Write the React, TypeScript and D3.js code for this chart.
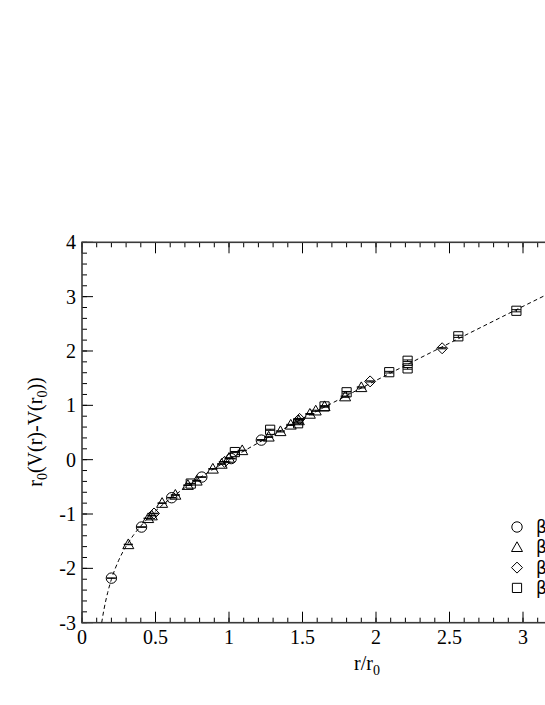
import React from "react";
import * as d3 from "d3";

// ---- data ----
const circleX = [0.2, 0.405, 0.61, 0.815, 1.015, 1.22];
const circleY = [-2.18, -1.24, -0.7, -0.32, 0.02, 0.36];
const circleErr = [0.0, 0.005, 0.005, 0.005, 0.005, 0.01];

const triX = [0.315, 0.45, 0.475, 0.545, 0.635, 0.72, 0.78, 0.89, 0.95, 1.0, 1.09, 1.27, 1.35, 1.42, 1.475, 1.55, 1.59, 1.65, 1.79, 1.9];
const triY = [-1.56, -1.08, -1.03, -0.8, -0.65, -0.47, -0.39, -0.17, -0.08, 0.03, 0.17, 0.42, 0.52, 0.64, 0.72, 0.84, 0.9, 0.98, 1.16, 1.33];
const triErr = [0.005, 0.005, 0.005, 0.005, 0.005, 0.005, 0.005, 0.005, 0.005, 0.005, 0.005, 0.01, 0.01, 0.01, 0.01, 0.01, 0.01, 0.01, 0.01, 0.01];

const diaX = [0.49, 0.97, 1.48, 1.96, 2.45];
const diaY = [-0.99, -0.04, 0.75, 1.44, 2.05];
const diaErr = [0.005, 0.005, 0.01, 0.01, 0.01];

const sqX = [0.74, 1.04, 1.28, 1.47, 1.65, 1.8, 2.09, 2.215, 2.215, 2.56, 2.955];
const sqY = [-0.44, 0.14, 0.55, 0.67, 0.98, 1.24, 1.61, 1.68, 1.82, 2.27, 2.74];
const sqErr = [0.005, 0.01, 0.01, 0.01, 0.01, 0.015, 0.015, 0.015, 0.015, 0.02, 0.02];

// dashed fit curve
const curveX = [0.134, 0.14, 0.15, 0.175, 0.2, 0.25, 0.3, 0.35, 0.4, 0.5, 0.6, 0.7, 0.8, 0.9, 1.0, 1.2, 1.4, 1.6, 1.8, 2.0, 2.2, 2.4, 2.6, 2.8, 3.0, 3.2, 3.4];
const curveY = [-3.0, -2.899, -2.749, -2.442, -2.203, -1.85, -1.592, -1.389, -1.221, -0.945, -0.718, -0.518, -0.335, -0.163, 0.0, 0.311, 0.608, 0.897, 1.179, 1.458, 1.734, 2.008, 2.28, 2.551, 2.821, 3.089, 3.358];

const xTickValues = [0, 0.5, 1, 1.5, 2, 2.5, 3, 3.5];
const xTickLabels = ["0", "0.5", "1", "1.5", "2", "2.5", "3", ""];
const yTickValues = [-3, -2, -1, 0, 1, 2, 3, 4];
const yTickLabels = ["-3", "-2", "-1", "0", "1", "2", "3", "4"];

const legendLabels = ["β=5.70", "β=5.85", "β=6.00", "β=6.20"];

type Shape = "circle" | "triangle" | "diamond" | "square";

const series: { shape: Shape; xs: number[]; ys: number[]; errs: number[] }[] = [
  { shape: "circle", xs: circleX, ys: circleY, errs: circleErr },
  { shape: "triangle", xs: triX, ys: triY, errs: triErr },
  { shape: "diamond", xs: diaX, ys: diaY, errs: diaErr },
  { shape: "square", xs: sqX, ys: sqY, errs: sqErr },
];

const FONT = "'Liberation Serif', 'Times New Roman', Times, 'DejaVu Serif', serif";

function shapePath(shape: Shape, cx: number, cy: number): string {
  const p = d3.path();
  if (shape === "circle") {
    p.moveTo(cx + 5.2, cy);
    p.arc(cx, cy, 5.2, 0, Math.PI * 2);
  } else if (shape === "triangle") {
    p.moveTo(cx, cy - 5.5);
    p.lineTo(cx + 5.5, cy + 4.2);
    p.lineTo(cx - 5.5, cy + 4.2);
    p.closePath();
  } else if (shape === "diamond") {
    p.moveTo(cx, cy - 5.5);
    p.lineTo(cx + 5.5, cy);
    p.lineTo(cx, cy + 5.5);
    p.lineTo(cx - 5.5, cy);
    p.closePath();
  } else {
    p.rect(cx - 4.6, cy - 4.6, 9.2, 9.2);
  }
  return p.toString();
}

export default function App() {
  const W = 545;
  const H = 705;
  const x = d3.scaleLinear().domain([0, 3.5]).range([82, 596.5]);
  const y = d3.scaleLinear().domain([-3, 4]).range([622.7, 242.3]);
  const x0 = x(0), x1 = x(3.5), yb = y(-3), yt = y(4);

  const xMinor = d3.range(0, 3.5001, 0.1);
  const yMinor = d3.range(-3, 4.0001, 0.2);

  const line = d3
    .line<number>()
    .x((_, i) => x(curveX[i]))
    .y((d) => y(d))
    .curve(d3.curveMonotoneX);

  const axisColor = "#3a3a3a";
  const tf = { fontFamily: FONT };

  return (
    <svg
      width={W}
      height={H}
      style={{ position: "absolute", left: 0, top: 0, overflow: "hidden", background: "#fff", fontFamily: FONT }}
    >
      <defs>
        <clipPath id="plotclip">
          <rect x={x0} y={yt} width={x1 - x0} height={yb - yt} />
        </clipPath>
      </defs>

      {/* minor ticks */}
      {xMinor.map((v, i) => (
        <g key={"xm" + i}>
          <line x1={x(v)} x2={x(v)} y1={yb} y2={yb - 5} stroke="#000" strokeWidth={1} />
          <line x1={x(v)} x2={x(v)} y1={yt} y2={yt + 5} stroke="#000" strokeWidth={1} />
        </g>
      ))}
      {yMinor.map((v, i) => (
        <g key={"ym" + i}>
          <line x1={x0} x2={x0 + 5} y1={y(v)} y2={y(v)} stroke="#000" strokeWidth={1} />
          <line x1={x1} x2={x1 - 5} y1={y(v)} y2={y(v)} stroke="#000" strokeWidth={1} />
        </g>
      ))}
      {/* major ticks */}
      {xTickValues.map((v, i) => (
        <g key={"xM" + i}>
          <line x1={x(v)} x2={x(v)} y1={yb} y2={yb - 11} stroke="#000" strokeWidth={1} />
          <line x1={x(v)} x2={x(v)} y1={yt} y2={yt + 11} stroke="#000" strokeWidth={1} />
          {xTickLabels[i] !== "" && (
            <text x={x(v)} y={644} fontSize={20} textAnchor="middle" fill="#000" style={tf}>
              {xTickLabels[i]}
            </text>
          )}
        </g>
      ))}
      {yTickValues.map((v, i) => (
        <g key={"yM" + i}>
          <line x1={x0} x2={x0 + 11} y1={y(v)} y2={y(v)} stroke="#000" strokeWidth={1} />
          <line x1={x1} x2={x1 - 11} y1={y(v)} y2={y(v)} stroke="#000" strokeWidth={1} />
          <text x={76} y={y(v) + 7} fontSize={20} textAnchor="end" fill="#000" style={tf}>
            {yTickLabels[i]}
          </text>
        </g>
      ))}

      {/* frame */}
      <rect x={x0} y={yt} width={x1 - x0} height={yb - yt} fill="none" stroke={axisColor} strokeWidth={1.6} />

      {/* dashed fit curve */}
      <path
        d={line(curveY) || ""}
        fill="none"
        stroke="#000"
        strokeWidth={1}
        strokeDasharray="4,3"
        clipPath="url(#plotclip)"
      />

      {/* data with error bars */}
      {series.map((s, si) => (
        <g key={"s" + si}>
          {s.xs.map((xv, i) => {
            const cx = x(xv);
            const cy = y(s.ys[i]);
            const e1 = y(s.ys[i] + s.errs[i]);
            const e2 = y(s.ys[i] - s.errs[i]);
            const hw = 4.5;
            return (
              <g key={i}>
                <line x1={cx} x2={cx} y1={e1} y2={e2} stroke="#000" strokeWidth={1} />
                <line x1={cx - hw} x2={cx + hw} y1={e1} y2={e1} stroke="#000" strokeWidth={1} />
                <line x1={cx - hw} x2={cx + hw} y1={e2} y2={e2} stroke="#000" strokeWidth={1} />
                <path d={shapePath(s.shape, cx, cy)} fill="none" stroke="#000" strokeWidth={1} />
              </g>
            );
          })}
        </g>
      ))}

      {/* legend */}
      {series.map((s, i) => {
        const ly = 527 + i * 20.3;
        return (
          <g key={"lg" + i}>
            <path d={shapePath(s.shape, 517, ly)} fill="none" stroke="#000" strokeWidth={1} />
            <text x={536} y={ly + 6} fontSize={17} fill="#000" style={{ fontFamily: "'DejaVu Sans', sans-serif" }}>
              {legendLabels[i]}
            </text>
          </g>
        );
      })}

      {/* axis titles */}
      <text x={367} y={670} fontSize={20} textAnchor="middle" fill="#000" style={tf}>
        r/r<tspan fontSize={14} dy={5}>0</tspan>
      </text>
      <text
        transform="translate(42,432) rotate(-90)"
        fontSize={20}
        textAnchor="middle"
        fill="#000"
        style={tf}
      >
        r<tspan fontSize={14} dy={5}>0</tspan>
        <tspan dy={-5}>(V(r)-V(r</tspan>
        <tspan fontSize={14} dy={5}>0</tspan>
        <tspan dy={-5}>))</tspan>
      </text>
    </svg>
  );
}
